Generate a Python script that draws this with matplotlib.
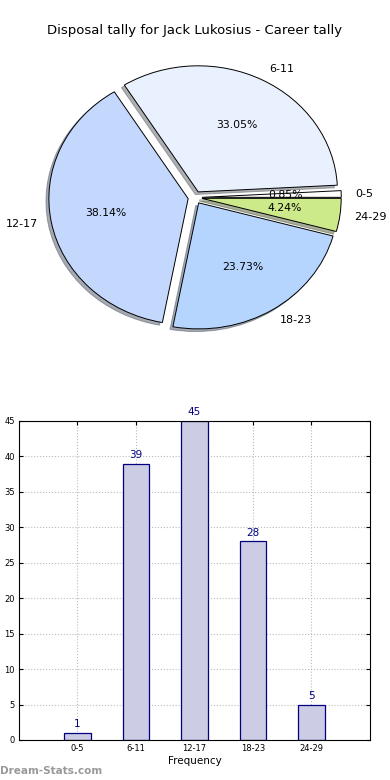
import matplotlib.pyplot as plt

# disposal tallies per bracket
labels = ['0-5', '6-11', '12-17', '18-23', '24-29']
counts = [1, 39, 45, 28, 5]
pie_colors = ['#ffffff', '#eaf1fe', '#c4d8fe', '#b5d5ff', '#cdea8a']
explode = [0.05, 0.05, 0.05, 0.05, 0.05]

fig = plt.figure(figsize=(3.9, 7.8), dpi=100)
fig.text(0.5, 0.961, 'Disposal tally for Jack Lukosius - Career tally',
         ha='center', va='center', fontsize=9.5)

# pie (old-style, not equal aspect)
ax1 = fig.add_axes([0.0, 0.5205, 1.0, 0.4526])
wedges, texts, autotexts = ax1.pie(counts, labels=labels, colors=pie_colors,
                                   explode=explode, autopct='%.2f%%',
                                   shadow={'ox': -0.015, 'oy': -0.015, 'shade': 0.6},
                                   startangle=0, labeldistance=1.1,
                                   wedgeprops=dict(edgecolor='black', linewidth=0.7),
                                   textprops=dict(fontsize=8))
for t in autotexts:
    t.set_fontsize(7.8)
ax1.set_aspect('auto')
ax1.set_xlim(-1.4, 1.4)
ax1.set_ylim(-1.4, 1.4)
ax1.axis('off')

# bar chart
ax2 = fig.add_axes([0.0487, 0.0513, 0.9, 0.409])
x = list(range(len(labels)))
ax2.bar(x, counts, width=0.45, color='#ccccE4', edgecolor='navy', linewidth=0.9, zorder=2)
for xi, c in zip(x, counts):
    ax2.text(xi, c + 0.5, str(c), ha='center', va='bottom', color='navy', fontsize=7.5)
ax2.set_xlim(-1, 5)
ax2.set_ylim(0, 45)
ax2.set_xticks(x)
ax2.set_xticklabels(labels)
ax2.set_yticks(range(0, 46, 5))
ax2.tick_params(labelsize=6, direction='in', top=True, right=True, length=3, pad=3)
ax2.grid(True, linestyle=':', color='#bbbbbb', linewidth=0.8, zorder=0)
ax2.set_axisbelow(True)
ax2.set_xlabel('Frequency', fontsize=7.5, labelpad=2)

fig.text(0.0, 0.0115, 'Dream-Stats.com', color='#999999', fontsize=7.5,
         fontweight='bold', ha='left', va='center')

plt.savefig('out.png', dpi=100)
